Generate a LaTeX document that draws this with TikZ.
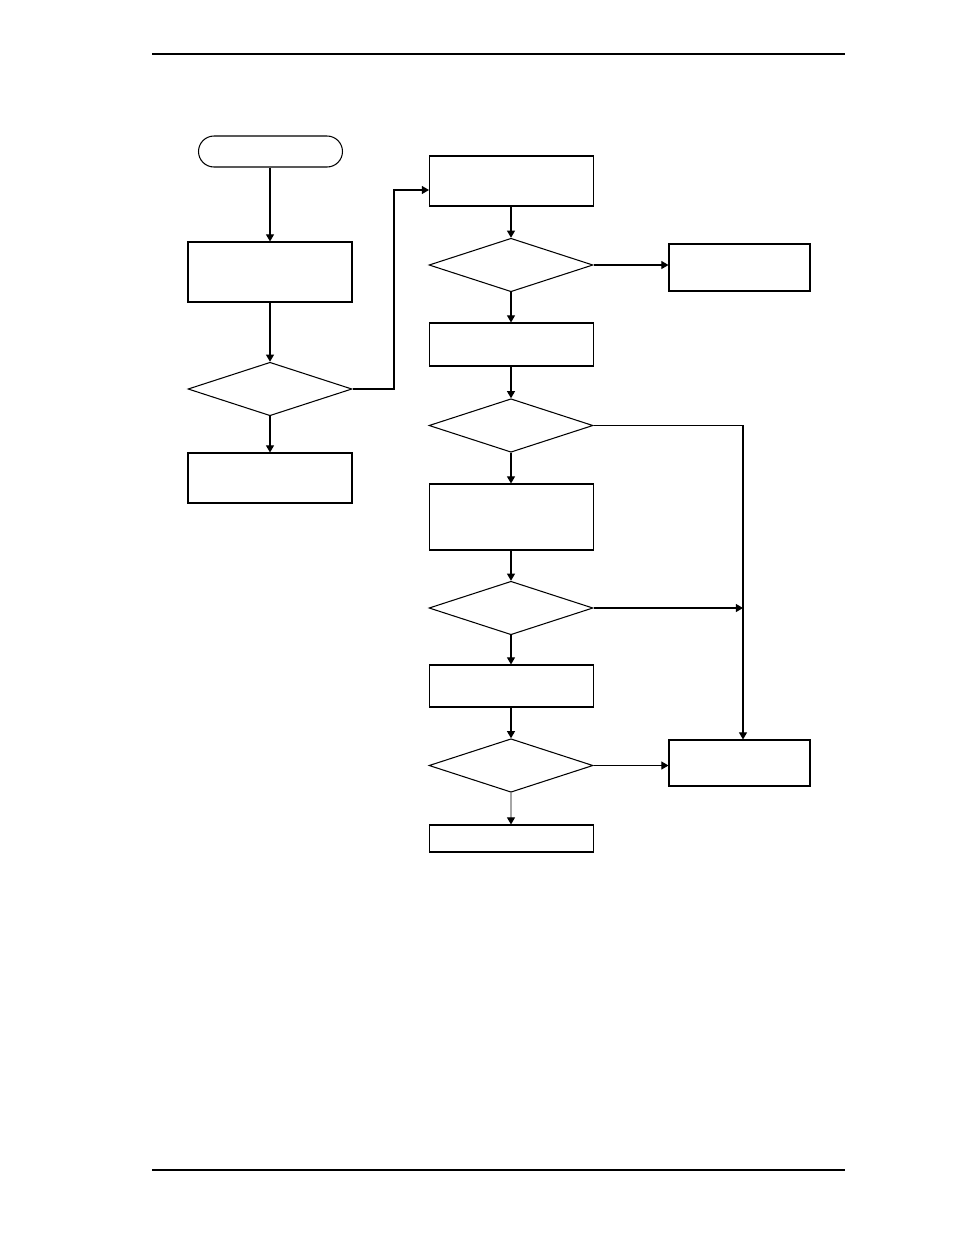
\documentclass[tikz,border=0pt]{standalone}
\usetikzlibrary{shapes.geometric,shapes.misc,arrows.meta}
\tikzset{
  box/.style={draw,rectangle,inner sep=0pt,minimum width=3.28cm},
  sidebox/.style={draw,rectangle,inner sep=0pt,minimum width=2.82cm},
  terminal/.style={draw,rounded rectangle,inner sep=0pt,minimum width=2.88cm,minimum height=0.62cm},
  decision/.style={draw,diamond,inner sep=0pt,minimum width=3.28cm,minimum height=1.07cm},
  flow/.style={-{Triangle[length=4pt,width=4.5pt]}},
}
\begin{document}
\begin{tikzpicture}[x=0.02cm,y=-0.02cm,line width=0.6pt]
      \useasboundingbox (0,0) rectangle (954,1235);
      % page rules
      \draw (152,54) coordinate (topl) -- (845,54) coordinate (topr);
      \draw[line width=1.1pt] (152,1170) coordinate (botl) -- (845,1170) coordinate (botr);
      % left column
      \node[terminal] (start) at (270.5,151.5) {};
      \node[box,minimum height=1.2cm] (a) at (270,272) {};
      \node[decision] (d1) at (270,389) {};
      \node[box,minimum height=1.0cm] (b) at (270,478) {};
      % right column
      \node[box,minimum height=1.0cm] (c) at (511.5,181) {};
      \node[decision] (d2) at (511,265) {};
      \node[sidebox,minimum height=0.94cm] (e) at (739.5,267.5) {};
      \node[box,minimum height=0.86cm] (f) at (511.5,344.5) {};
      \node[decision] (d3) at (511,425.5) {};
      \node[box,minimum height=1.32cm] (g) at (511.5,517) {};
      \node[decision] (d4) at (511,608) {};
      \node[box,minimum height=0.84cm] (h) at (511.5,686) {};
      \node[decision] (d5) at (511,765.5) {};
      \node[box,minimum height=0.54cm] (i) at (511.5,838.5) {};
      \node[sidebox,minimum height=0.92cm] (j) at (739.5,763) {};
      \coordinate (jog) at (394,190);
      \coordinate (rail) at (743,425.5);
      \begin{scope}[flow]
        \draw (start.south -| a.north) to (a.north);
        \draw (a) to (d1);
        \draw (d1) to (b);
        \draw (d1.east) -| (jog) -- (c.west |- jog);
        \draw (c.south -| d2.north) to (d2.north);
        \draw (d2.east) to (d2.east -| e.west);
        \draw (d2.south) to (d2.south |- f.north);
        \draw (f.south -| d3.north) to (d3.north);
        \draw (d3.east) -| (rail |- j.north);
        \draw (d3.south) to (d3.south |- g.north);
        \draw (g.south -| d4.north) to (d4.north);
        \draw (d4.east) to (d4.east -| rail);
        \draw (d4.south) to (d4.south |- h.north);
        \draw (h.south -| d5.north) to (d5.north);
        \draw (d5.east) to (d5.east -| j.west);
        \draw[gray!70,-{Triangle[length=4pt,width=4.5pt,black]}] (d5.south) to (d5.south |- i.north);
      \end{scope}
    \end{tikzpicture}
\end{document}
